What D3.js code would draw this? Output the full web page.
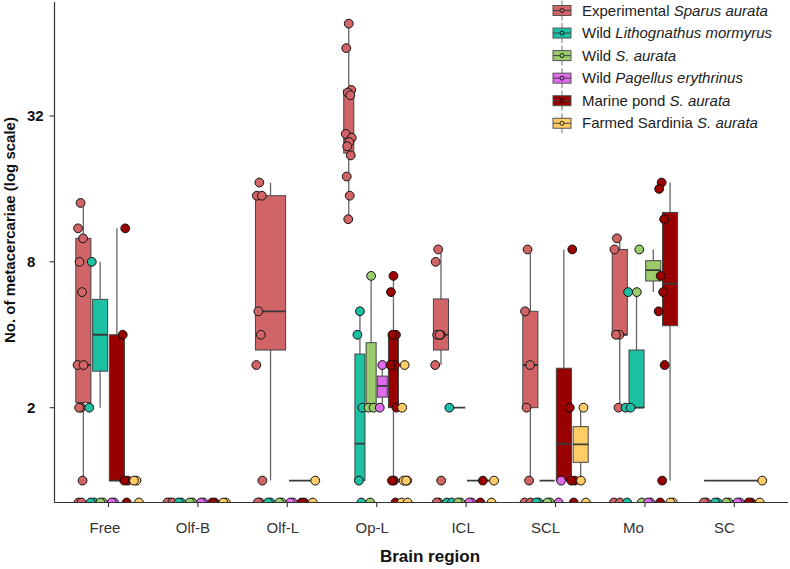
<!DOCTYPE html>
<html>
<head>
<meta charset="utf-8">
<script src="https://cdn.jsdelivr.net/npm/d3@7"></script>
<style>
  html, body { margin: 0; padding: 0; background: #fff; }
  svg { display: block; font-family: "Liberation Sans", Arial, sans-serif; }
</style>
</head>
<body>
<svg id="chart" width="790" height="569"></svg>
<script>
// ---------------- data ----------------
const regions = ["Free", "Olf-B", "Olf-L", "Op-L", "ICL", "SCL", "Mo", "SC"];
const yTicks = [2, 8, 32];

const speciesPrefix = ["Experimental ", "Wild ", "Wild ", "Wild ", "Marine pond ", "Farmed Sardinia "];
const speciesItalic = ["Sparus aurata", "Lithognathus mormyrus", "S. aurata", "Pagellus erythrinus", "S. aurata", "S. aurata"];
const speciesColors = ["#D06466", "#1CC0A2", "#9BCB6B", "#DD6BEA", "#990000", "#FFCC66"];

// points per region (0 = zero count)
const expPoints = [[14, 11, 10, 8, 6, 3, 3, 2, 2, 1, 0, 0], [0, 0, 0], [17, 15, 15, 5, 4, 3, 1, 0, 0],
  [77, 61, 41, 40, 39, 27, 26, 25, 24, 22, 18, 15, 12], [9, 8, 4, 4, 4, 3, 1, 0, 0], [9, 5, 3, 2, 1, 0, 0],
  [10, 9, 4, 4, 2, 0, 0], [0, 0]];
const lithPoints = [[8, 2, 0, 0], [0, 0], [0, 0], [5, 4, 2, 1, 0], [2, 0, 0], [0, 0], [6, 2, 2, 0], [0, 0]];
const wildSaPoints = [[0, 0], [0, 0], [0, 0], [7, 2, 2, 0], [0, 0], [0, 0], [9, 6, 0], [0, 0]];
const pagPoints = [[0, 0], [0, 0], [0, 0], [3, 2], [0, 0], [1, 0], [0, 0], [0, 0]];
const pondPoints = [[11, 4, 1, 1, 0], [0, 0], [0, 0], [7, 6, 4, 4, 3, 3, 2, 1, 1, 0], [1, 0],
  [9, 2, 1, 1, 0], [17, 16, 12, 7, 6, 5, 3, 1, 0], [0, 0]];
const farmPoints = [[1, 1, 0], [0, 0], [1, 0], [3, 2, 1, 1, 1, 0, 0], [1, 0], [2, 1, 0], [0, 0], [1, 0]];

// box statistics per region: [lower whisker, Q1, median, Q3, upper whisker]
const expBoxes = [[1, 2.1, 3, 10, 14], null, [1, 3.46, 5, 15, 17], [12, 22.5, 26, 41, 77],
  [3, 3.46, 4, 5.62, 9], [1, 2, 3, 5, 9], [2, 4, 4, 9, 10], null];
const lithBoxes = [[2, 2.83, 4, 5.6, 8], null, null, [1, 1, 1.42, 3.33, 5], [2, 2, 2, 2, 2], null,
  [2, 2, 2, 3.46, 6], null];
const wildSaBoxes = [null, null, null, [2, 2, 2, 3.71, 7], null, null, [6, 6.67, 7.4, 8.09, 9], null];
const pagBoxes = [null, null, null, [2, 2.21, 2.46, 2.7, 3], null, [1, 1, 1, 1, 1], null, null];
const pondBoxes = [[1, 1, 1, 4, 11], null, null, [1, 2, 3, 4, 7], [1, 1, 1, 1, 1], [1, 1, 1.42, 2.91, 9],
  [1, 4.36, 6.5, 12.8, 17], null];
const farmBoxes = [[1, 1, 1, 1, 1], null, [1, 1, 1, 1, 1], [1, 1, 1, 1, 1], [1, 1, 1, 1, 1],
  [1, 1.19, 1.41, 1.67, 2], null, [1, 1, 1, 1, 1]];

const allPoints = [expPoints, lithPoints, wildSaPoints, pagPoints, pondPoints, farmPoints];
const allBoxes = [expBoxes, lithBoxes, wildSaBoxes, pagBoxes, pondBoxes, farmBoxes];

// ---------------- layout ----------------
const panel = { left: 54.5, right: 788, top: 2, bottom: 502.5 };
const labelNudge = [-3.5, -5, -4.5, -4.5, -3, -10, -11.5, -10];
const jitter = [0, -2.5, 2.5, -1, 1.5, -3, 3, 0.5, -1.5, 2, -2, 1, -0.5];

const svg = d3.select("#chart");

const x = d3.scalePoint().domain(regions).range([108.5, 734.3]);
const step = x.step();
const dodgeW = step * 0.75;

const y = d3.scaleLog().base(2).domain([1, 32]).range([480.6, 116]);
const yv = v => (v > 0 ? y(v) : panel.bottom);

svg.append("defs").append("clipPath").attr("id", "panelClip")
  .append("rect")
  .attr("x", panel.left).attr("y", panel.top)
  .attr("width", panel.right - panel.left).attr("height", panel.bottom - panel.top);

const plot = svg.append("g").attr("clip-path", "url(#panelClip)");

// boxes (dodged over groups that have a box in that region)
regions.forEach((r, ri) => {
  const present = allBoxes.map((b, si) => ({ b: b[ri], si })).filter(d => d.b);
  const n = present.length;
  const slot = dodgeW / n;
  present.forEach((d, k) => {
    const cx = x(r) - dodgeW / 2 + slot * (k + 0.5);
    const bw = slot * 0.9;
    const [lo, q1, med, q3, hi] = d.b;
    const g = plot.append("g");
    g.append("line").attr("x1", cx).attr("x2", cx).attr("y1", y(q3)).attr("y2", y(hi))
      .attr("stroke", "#666").attr("stroke-width", 1.3);
    g.append("line").attr("x1", cx).attr("x2", cx).attr("y1", y(q1)).attr("y2", y(lo))
      .attr("stroke", "#666").attr("stroke-width", 1.3);
    if (q3 > q1) {
      g.append("rect").attr("x", cx - bw / 2).attr("width", bw)
        .attr("y", y(q3)).attr("height", y(q1) - y(q3))
        .attr("fill", speciesColors[d.si]).attr("stroke", "#444").attr("stroke-width", 1);
    }
    g.append("line").attr("x1", cx - bw / 2).attr("x2", cx + bw / 2)
      .attr("y1", y(med)).attr("y2", y(med))
      .attr("stroke", "#3a3a3a").attr("stroke-width", 1.8);
  });
});

// points (dodged over all six groups, jittered)
regions.forEach((r, ri) => {
  const slot = dodgeW / 6;
  allPoints.forEach((pts, si) => {
    const cx = x(r) - dodgeW / 2 + slot * (si + 0.5);
    pts[ri].forEach((v, i) => {
      plot.append("circle")
        .attr("cx", cx + jitter[i % jitter.length])
        .attr("cy", yv(v))
        .attr("r", 4.4)
        .attr("fill", speciesColors[si])
        .attr("stroke", "#111").attr("stroke-width", 1);
    });
  });
});

// axes
const axisCol = "#333";
svg.append("line").attr("x1", panel.left).attr("x2", panel.left)
  .attr("y1", panel.top).attr("y2", panel.bottom).attr("stroke", axisCol).attr("stroke-width", 1.2);
svg.append("line").attr("x1", panel.left).attr("x2", panel.right)
  .attr("y1", panel.bottom).attr("y2", panel.bottom).attr("stroke", axisCol).attr("stroke-width", 1.2);

yTicks.forEach(t => {
  svg.append("line").attr("x1", panel.left - 5).attr("x2", panel.left)
    .attr("y1", y(t)).attr("y2", y(t)).attr("stroke", axisCol).attr("stroke-width", 1.1);
  svg.append("text").attr("x", 27).attr("y", y(t) + 5)
    .attr("font-size", 15).attr("font-weight", "bold").attr("fill", "#111").text(t);
});

regions.forEach((r, i) => {
  svg.append("line").attr("x1", x(r)).attr("x2", x(r))
    .attr("y1", panel.bottom).attr("y2", panel.bottom + 4.5).attr("stroke", axisCol).attr("stroke-width", 1.1);
  svg.append("text").attr("x", x(r) + labelNudge[i]).attr("y", 533)
    .attr("text-anchor", "middle").attr("font-size", 15).attr("fill", "#333").text(r);
});

svg.append("text").attr("x", 430).attr("y", 562).attr("text-anchor", "middle")
  .attr("font-size", 17).attr("font-weight", "bold").attr("fill", "#111").text("Brain region");

svg.append("text").attr("transform", "translate(15,230) rotate(-90)").attr("text-anchor", "middle")
  .attr("font-size", 15).attr("font-weight", "bold").attr("fill", "#111")
  .text("No. of metacercariae (log scale)");

// legend
const legend = svg.append("g");
speciesPrefix.forEach((p, i) => {
  const cy = 10.5 + i * 22.55;
  const kx = 562;
  legend.append("line").attr("x1", kx).attr("x2", kx).attr("y1", cy - 10).attr("y2", cy + 10)
    .attr("stroke", "#777").attr("stroke-width", 1);
  legend.append("rect").attr("x", kx - 9).attr("y", cy - 5).attr("width", 18).attr("height", 10)
    .attr("fill", speciesColors[i]).attr("stroke", "#555").attr("stroke-width", 1);
  legend.append("line").attr("x1", kx - 9).attr("x2", kx + 9).attr("y1", cy).attr("y2", cy)
    .attr("stroke", "#444").attr("stroke-width", 1);
  legend.append("circle").attr("cx", kx).attr("cy", cy).attr("r", 2)
    .attr("fill", speciesColors[i]).attr("stroke", "#111").attr("stroke-width", 0.9);
  const t = legend.append("text").attr("x", 582).attr("y", cy + 5)
    .attr("font-size", 15).attr("fill", "#222");
  t.append("tspan").text(p);
  t.append("tspan").attr("font-style", "italic").text(speciesItalic[i]);
});
</script>
</body>
</html>
